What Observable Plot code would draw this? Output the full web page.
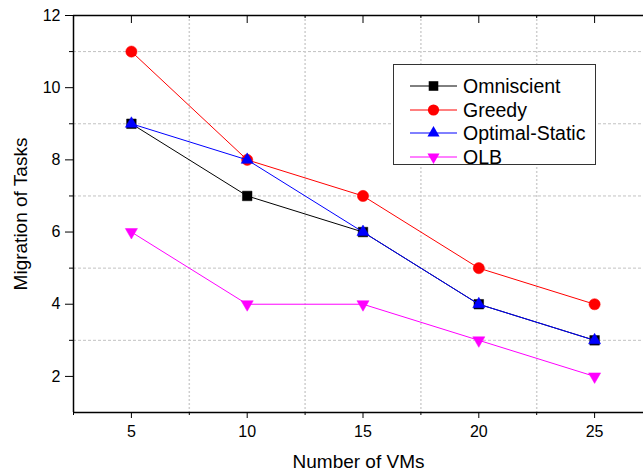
<!DOCTYPE html>
<html>
<head>
<meta charset="utf-8">
<script src="https://cdn.jsdelivr.net/npm/d3@7"></script>
<script src="https://cdn.jsdelivr.net/npm/@observablehq/plot@0.6"></script>
<style>
  html, body { margin: 0; padding: 0; background: #fff; }
  #wrap { position: relative; width: 643px; height: 473px; overflow: hidden; font-family: "Liberation Sans", Arial, sans-serif; }
  #legend { position: absolute; left: 393px; top: 64px; width: 201px; height: 99px; border: 1px solid #333; background: #fff; }
  .row { position: absolute; left: 0; height: 24px; display: flex; align-items: center; }
  .row svg { margin-left: 16px; }
  .row span { margin-left: 6px; font-size: 19.5px; color: #000; line-height: 24px; }
</style>
</head>
<body>
<div id="wrap"></div>
<script>
// ---- data ----
const vms = [5, 10, 15, 20, 25];
const seriesNames = ["Omniscient", "Greedy", "Optimal-Static", "OLB"];
const omniscient = [9, 7, 6, 4, 3];
const greedy = [11, 8, 7, 5, 4];
const optimalStatic = [9, 8, 6, 4, 3];
const olb = [6, 4, 4, 3, 2];
const yMajorTicks = [2, 4, 6, 8, 10, 12];
const yMinorTicks = [3, 5, 7, 9, 11];
const xMinorTicks = [2.5, 7.5, 12.5, 17.5, 22.5];

// ---- styles ----
const colors = ["#000000", "#ff0000", "#0000ff", "#ff00ff"];
const triangleDown = {
  draw(context, size) {
    const y = -Math.sqrt(size / (3 * Math.sqrt(3)));
    context.moveTo(0, -y * 2);
    context.lineTo(-Math.sqrt(3) * y, y);
    context.lineTo(Math.sqrt(3) * y, y);
    context.closePath();
  }
};
const symbols = ["square", "circle", "triangle", triangleDown];
const radii = [5.4, 5.6, 4.5, 4.5];
const valueLists = [omniscient, greedy, optimalStatic, olb];

const table = seriesNames.map((name, k) =>
  vms.map((x, i) => ({series: name, x, y: valueLists[k][i]}))
);

const font = '"Liberation Sans", Arial, sans-serif';
const gridH = {stroke: "#c2c2c2", strokeOpacity: 1, strokeWidth: 1, strokeDasharray: "3,2"};
const gridV = {stroke: "#cfcfcf", strokeOpacity: 1, strokeWidth: 1.5, strokeDasharray: "2,2"};

const marks = [
  Plot.gridY(yMinorTicks, gridH),
  Plot.gridX(xMinorTicks.slice(1), gridV),
];
table.forEach((d, k) => {
  marks.push(Plot.line(d, {x: "x", y: "y", stroke: colors[k], strokeWidth: 1}));
  marks.push(Plot.dot(d, {x: "x", y: "y", fill: colors[k], stroke: colors[k], strokeWidth: 0.5, symbol: () => symbols[k], r: radii[k]}));
});
marks.push(
  // axes
  Plot.axisY(yMajorTicks, {tickSize: 8, tickPadding: 5, fontSize: 16, label: null, stroke: "#000"}),
  Plot.axisY(yMinorTicks, {tickSize: 4, tickFormat: () => "", label: null}),
  Plot.axisX(vms, {tickSize: 6, tickPadding: 7, fontSize: 16, label: null}),
  Plot.axisX(xMinorTicks, {tickSize: 3, tickFormat: () => "", label: null}),
  Plot.ruleX(vms, {y1: 12, y2: 12, insetBottom: -8, stroke: "#000"}),
  Plot.ruleX(xMinorTicks.slice(1), {y1: 12, y2: 12, insetBottom: -3, stroke: "#000"}),
  Plot.ruleY([1], {stroke: "#000", strokeWidth: 1.5}),
  Plot.ruleY([12], {stroke: "#000", strokeWidth: 1.5}),
  Plot.ruleX([2.5], {stroke: "#000", strokeWidth: 1.5}),
  Plot.text(["Number of VMs"], {text: d => d, frameAnchor: "bottom", dy: 55, lineAnchor: "bottom", fontSize: 19, fill: "#000"}),
  Plot.text(["Migration of Tasks"], {text: d => d, frameAnchor: "left", dx: -53, rotate: -90, textAnchor: "middle", lineAnchor: "middle", fontSize: 19, fill: "#000"})
);

const chart = Plot.plot({
  width: 643,
  height: 473,
  marginLeft: 73,
  marginTop: 15,
  marginBottom: 61,
  marginRight: 0,
  style: {fontFamily: font, color: "#000", background: "#fff", overflow: "hidden"},
  x: {domain: [2.5, 27.5], range: [73, 652]},
  y: {domain: [1, 12], range: [412, 15]},
  marks
});
const wrap = document.getElementById("wrap");
wrap.appendChild(chart);

// legend
const legend = document.createElement("div");
legend.id = "legend";
seriesNames.forEach((name, k) => {
  const row = document.createElement("div");
  row.className = "row";
  row.style.top = (9 + k * 23.5) + "px";
  const d3sym = {square: d3.symbolSquare, circle: d3.symbolCircle, triangle: d3.symbolTriangle}[symbols[k]] || symbols[k];
  const path = d3.symbol(d3sym, Math.PI * radii[k] * radii[k])();
  row.innerHTML = `<svg width="47" height="24"><line x1="0" x2="47" y1="12" y2="12" stroke="${colors[k]}" stroke-width="1"/><path d="${path}" transform="translate(23.5,12)" fill="${colors[k]}"/></svg><span>${name}</span>`;
  legend.appendChild(row);
});
wrap.appendChild(legend);
</script>
</body>
</html>
